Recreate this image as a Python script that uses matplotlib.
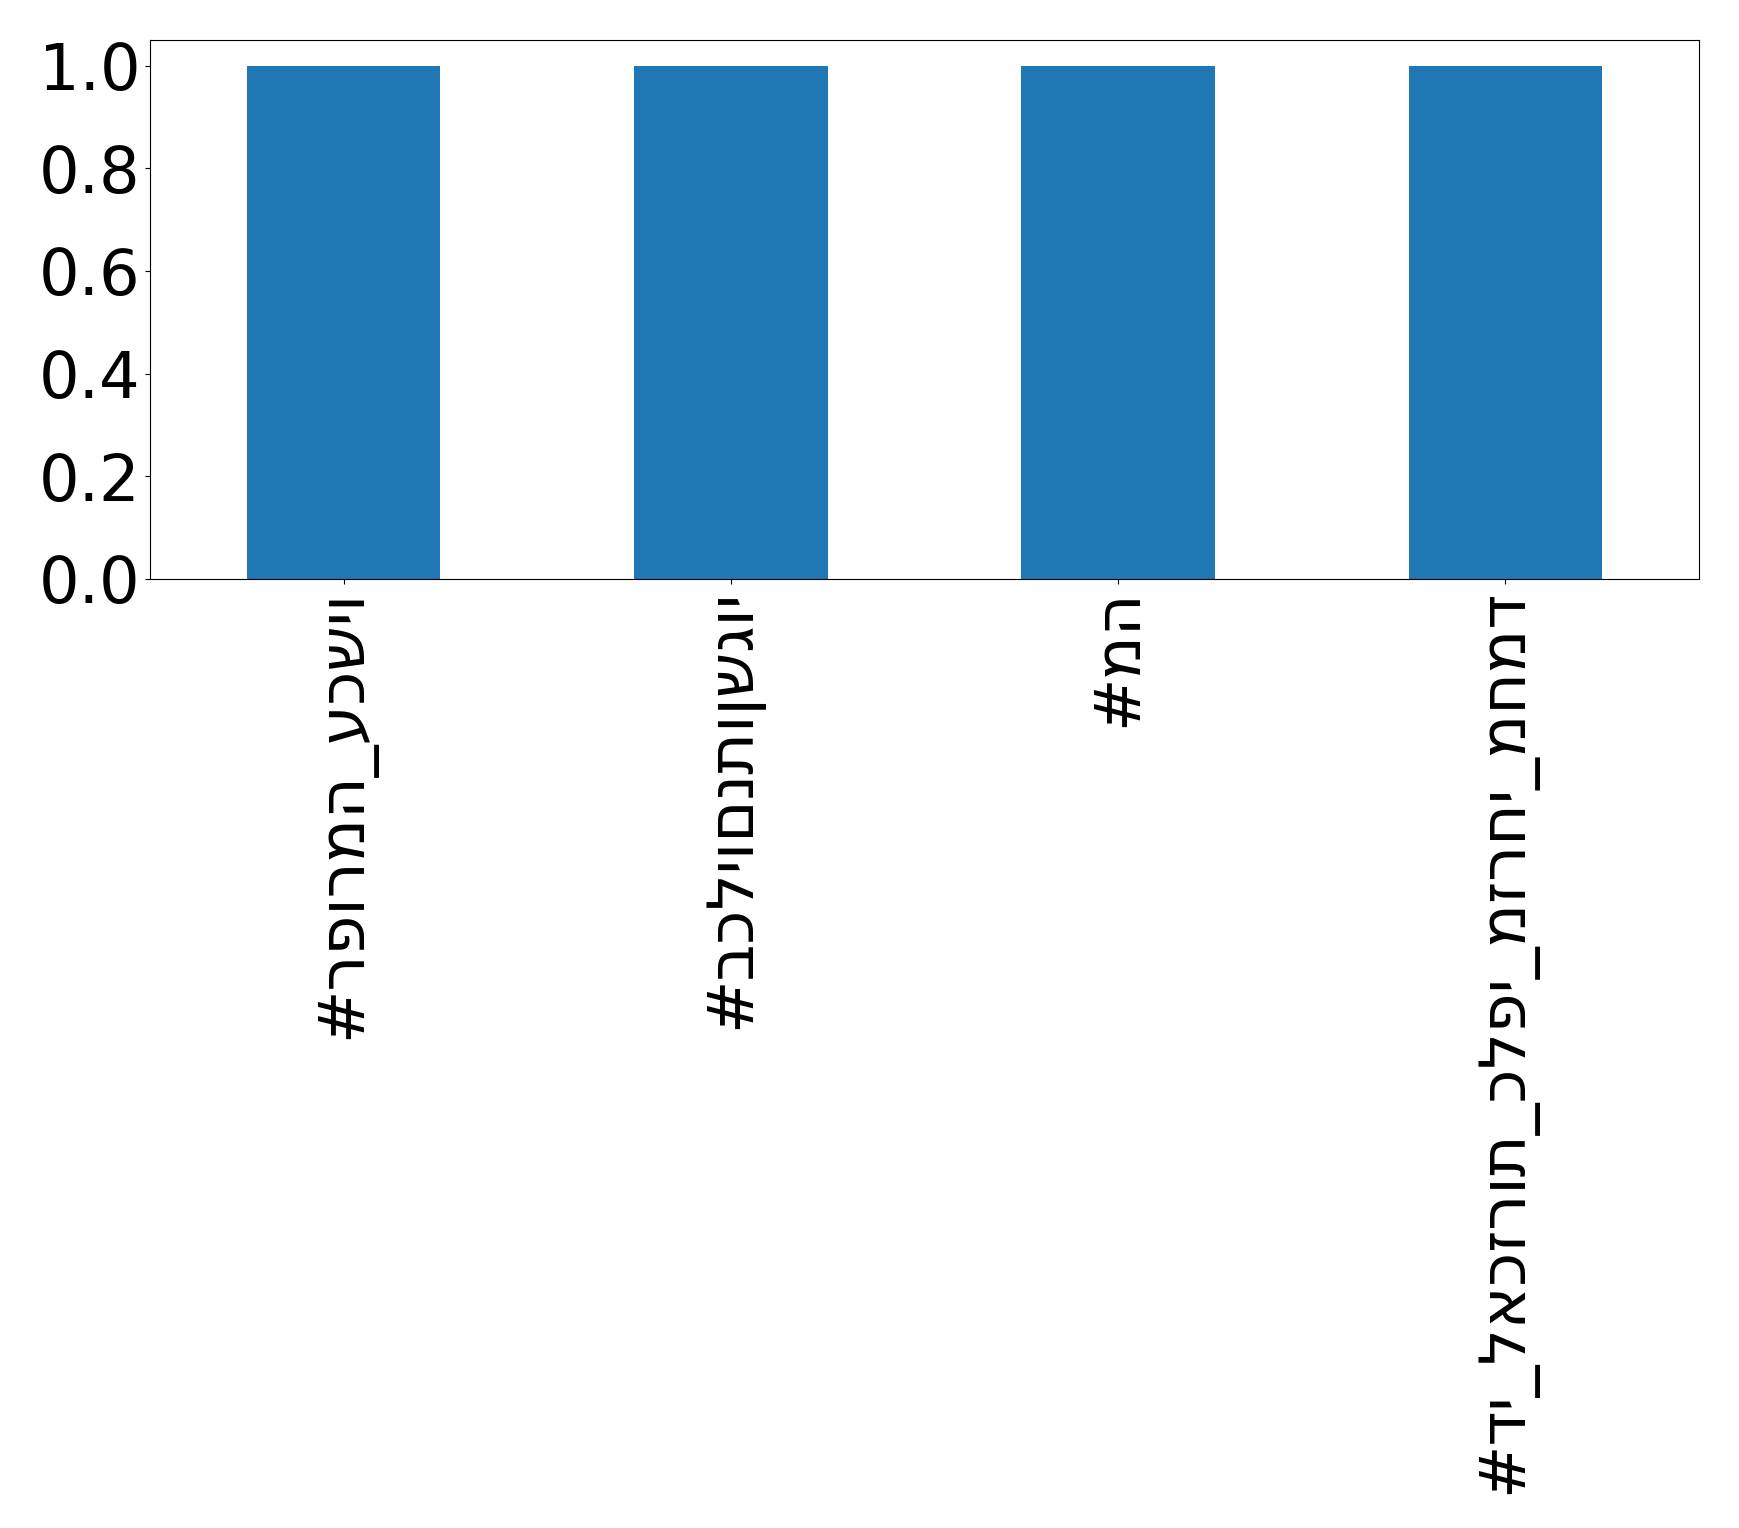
import numpy as np
import pandas as pd
import matplotlib
matplotlib.use("Agg")
import matplotlib.pyplot as plt

hashtags = ["#רפורמה_עכשיו", "#בכליוםנתוןשגוי", "#מה", "#די_לאכזרות_כלפי_מזרחי_מחמד"]
counts = [1, 1, 1, 1]

s = pd.Series(counts, index=hashtags)

fig = plt.figure(figsize=(17.39, 15.28), dpi=100)
ax = fig.add_subplot(111)
s.plot(kind="bar", ax=ax, fontsize=46, color="#1f77b4")
ax.set_ylim(0, 1.05)
fig.subplots_adjust(left=150/1739, right=1699/1739, top=1-40/1528, bottom=1-579/1528)
plt.savefig("out.png", dpi=100)
